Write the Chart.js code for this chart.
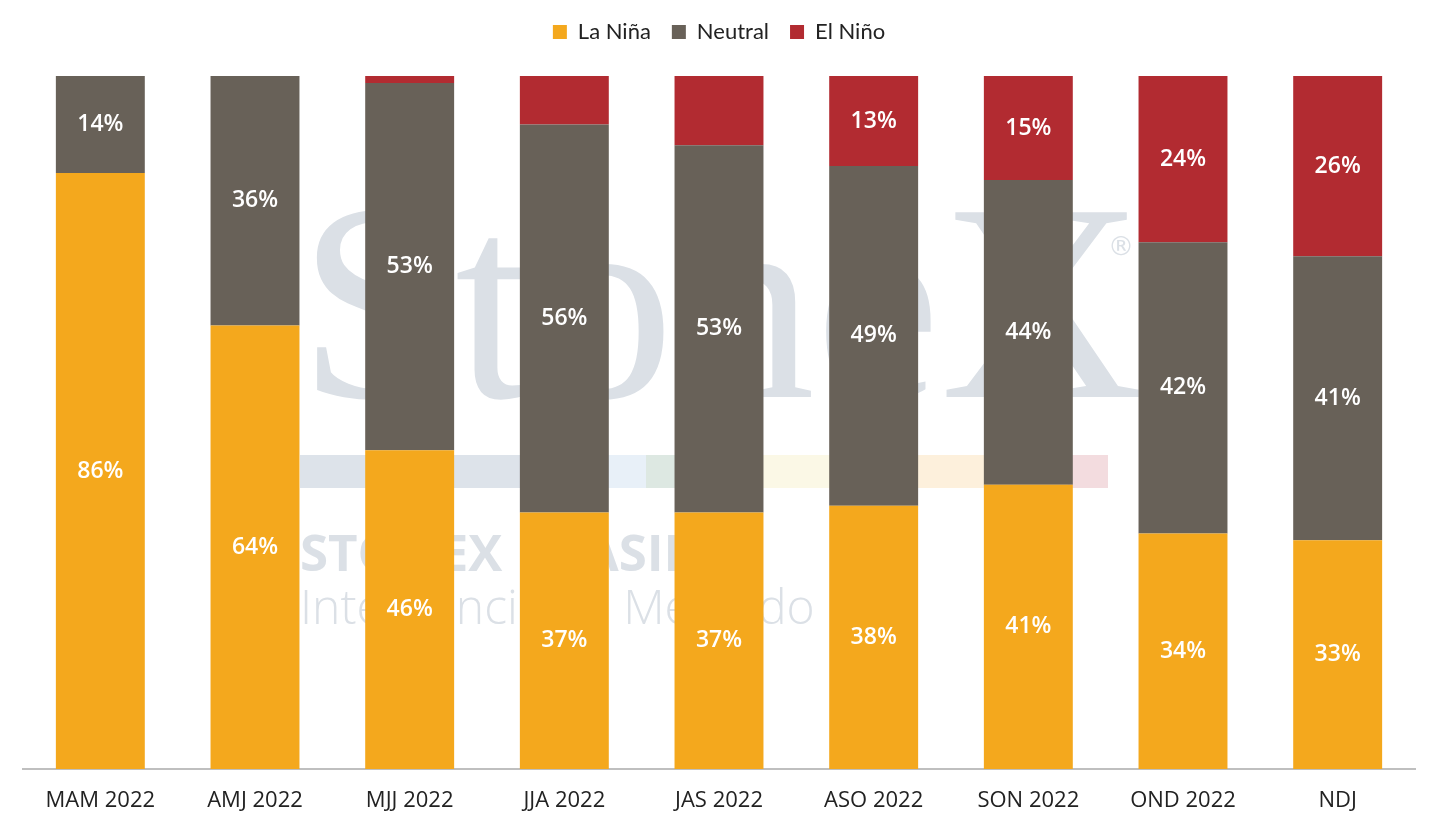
<!DOCTYPE html>
<html lang="pt">
<head>
    <meta charset="UTF-8">
    <title>ENSO probabilidades</title>
    <style>
        html, body { margin: 0; padding: 0; background: #fff; }
        #wrap { width: 1438px; height: 826px; }
    </style>
</head>
<body>
    <div id="wrap"><canvas id="chart"></canvas></div>

    <script src="https://cdn.jsdelivr.net/npm/chart.js"></script>
    <script>
        // dados
        const categories = ["MAM 2022", "AMJ 2022", "MJJ 2022", "JJA 2022", "JAS 2022", "ASO 2022", "SON 2022", "OND 2022", "NDJ"];
        const laNina  = [86, 64, 46, 37, 37, 38, 41, 34, 33];
        const neutral = [14, 36, 53, 56, 53, 49, 44, 42, 41];
        const elNino  = [0, 0, 1, 7, 10, 13, 15, 24, 26];

        // marca d'água (fundo)
        const watermark = {
            id: 'watermark',
            beforeDatasetsDraw(chart) {
                const ctx = chart.ctx;
                ctx.save();
                ctx.fillStyle = '#dbe0e6';
                ctx.textBaseline = 'alphabetic';
                ctx.textAlign = 'left';
                ctx.font = '282px "Liberation Serif", serif';
                ctx.fillText('StoneX', 298, 397);
                ctx.font = '26px "DejaVu Sans", sans-serif';
                ctx.fillText('®', 1108, 255);
                const band = ['#dde3ea', '#dde3ea', '#e8f0f8', '#dde8e2', '#fbf8e6', '#fdf0dc', '#f3dcdf'];
                const bx = [300, 420, 580, 646, 762, 914, 1068, 1108];
                for (let i = 0; i < band.length; i++) {
                    ctx.fillStyle = band[i];
                    ctx.fillRect(bx[i], 455, bx[i + 1] - bx[i], 33);
                }
                ctx.fillStyle = '#dbe0e6';
                ctx.font = 'bold 51px "Open Sans", sans-serif';
                ctx.fillText('STONEX BRASIL', 300, 571);
                ctx.font = '300 48px "Open Sans", sans-serif';
                ctx.fillText('Inteligência de Mercado', 300, 624);
                ctx.restore();
            }
        };

        // rótulos de porcentagem dentro das barras
        const barLabels = {
            id: 'barLabels',
            afterDatasetsDraw(chart) {
                const ctx = chart.ctx;
                ctx.save();
                ctx.fillStyle = '#ffffff';
                ctx.font = '600 23px "Open Sans", sans-serif';
                ctx.textAlign = 'center';
                ctx.textBaseline = 'middle';
                chart.data.datasets.forEach((ds, i) => {
                    const meta = chart.getDatasetMeta(i);
                    meta.data.forEach((bar, j) => {
                        const v = ds.data[j];
                        if (v < 12) return;
                        const mid = (bar.y + bar.base) / 2;
                        ctx.fillText(v + '%', bar.x, mid);
                    });
                });
                ctx.restore();
            }
        };

        // espaço extra abaixo da legenda
        const legendGap = {
            id: 'legendGap',
            beforeInit(chart) {
                const fit = chart.legend.fit;
                chart.legend.fit = function () {
                    fit.call(this);
                    this.height += 23;
                };
            }
        };

        const ctx = document.getElementById('chart').getContext('2d');
        new Chart(ctx, {
            type: 'bar',
            data: {
                labels: categories,
                datasets: [
                    { label: 'La Niña', data: laNina, backgroundColor: '#f4a81d' },
                    { label: 'Neutral', data: neutral, backgroundColor: '#686158' },
                    { label: 'El Niño', data: elNino, backgroundColor: '#b22b31' }
                ]
            },
            options: {
                responsive: true,
                maintainAspectRatio: false,
                animation: false,
                layout: { padding: { left: 23, right: 23, top: 0, bottom: -7 } },
                datasets: { bar: { barPercentage: 0.575, categoryPercentage: 1 } },
                plugins: {
                    legend: {
                        position: 'top',
                        labels: {
                            boxWidth: 14, boxHeight: 14, padding: 21,
                            color: '#222',
                            font: { family: 'Lato, sans-serif', size: 22 }
                        }
                    },
                    tooltip: { enabled: false }
                },
                scales: {
                    x: {
                        stacked: true,
                        grid: { display: false, drawTicks: false },
                        border: { color: '#bfbfbf', width: 2 },
                        ticks: { color: '#222', padding: 21, font: { family: '"Open Sans", sans-serif', size: 22, lineHeight: 1 } }
                    },
                    y: {
                        stacked: true,
                        display: false,
                        min: 0, max: 100
                    }
                }
            },
            plugins: [watermark, barLabels, legendGap]
        });
    </script>
</body>
</html>
